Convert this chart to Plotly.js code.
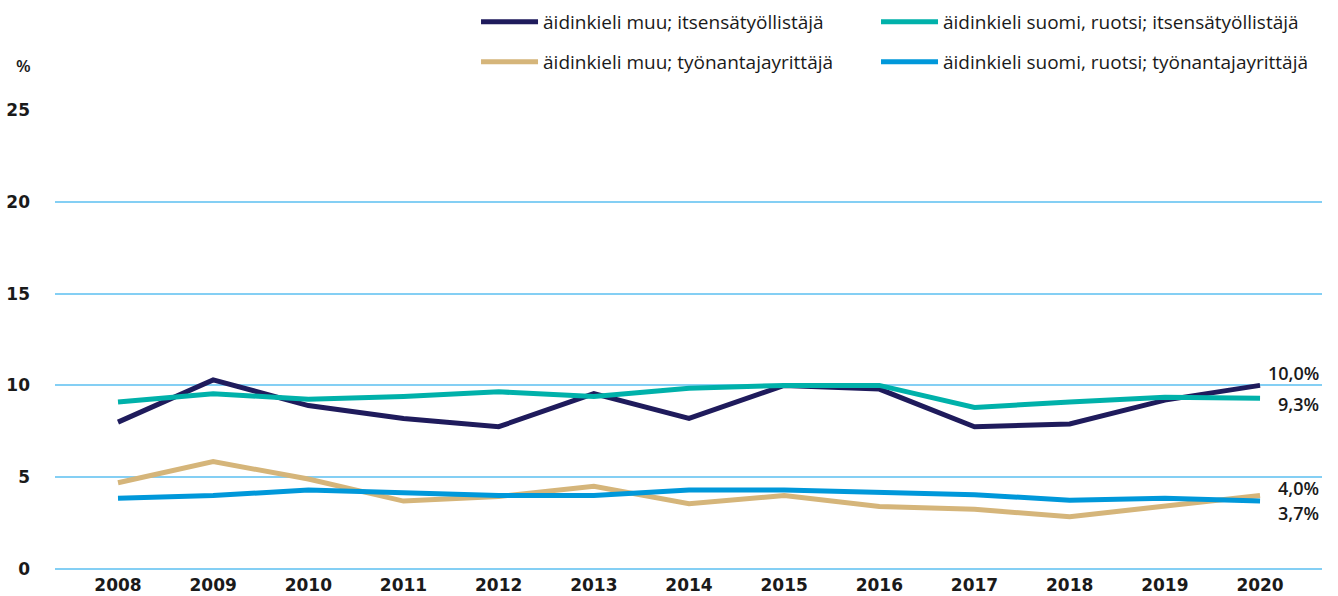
<!DOCTYPE html>
<html>
<head>
<meta charset="utf-8">
<script src="https://cdn.plot.ly/plotly-3.0.1.min.js"></script>
<style>
  html, body { margin: 0; padding: 0; background: #ffffff; }
  #chart { width: 1338px; height: 596px; }
</style>
</head>
<body>
<div id="chart"></div>
<script>
// ---- data ----
const years = [2008, 2009, 2010, 2011, 2012, 2013, 2014, 2015, 2016, 2017, 2018, 2019, 2020];

const seriesNames = [
  "äidinkieli muu; itsensätyöllistäjä",
  "äidinkieli suomi, ruotsi; itsensätyöllistäjä",
  "äidinkieli muu; työnantajayrittäjä",
  "äidinkieli suomi, ruotsi; työnantajayrittäjä"
];

const muuItsensa   = [8.0, 10.3, 8.9, 8.2, 7.75, 9.55, 8.2, 10.0, 9.8, 7.75, 7.9, 9.2, 10.0];
const suomiItsensa = [9.1, 9.55, 9.25, 9.4, 9.65, 9.4, 9.85, 10.0, 10.0, 8.8, 9.1, 9.35, 9.3];
const muuTyonantaja   = [4.7, 5.85, 4.9, 3.7, 3.95, 4.5, 3.55, 4.0, 3.4, 3.25, 2.85, 3.45, 4.0];
const suomiTyonantaja = [3.85, 4.0, 4.3, 4.15, 4.0, 4.0, 4.3, 4.3, 4.15, 4.05, 3.75, 3.85, 3.7];

const yTicks = [0, 5, 10, 15, 20, 25];
const unitLabel = "%";

// ---- styles ----
const colors = ["#1f1b5c", "#00b1aa", "#d5b57a", "#0098da"];
const legendIds = ["legend", "legend2", "legend3", "legend4"];
const legendPos = [[0.3323, 1.192], [0.6480, 1.192], [0.3323, 1.105], [0.6480, 1.105]];
const labelShift = [12, -6, 8, -12];
const FONT = "Open Sans, sans-serif";
const NUMFONT = "DejaVu Sans, sans-serif";

const seriesValues = [muuItsensa, suomiItsensa, muuTyonantaja, suomiTyonantaja];

const traces = seriesValues.map((vals, i) => ({
  type: "scatter",
  mode: "lines",
  x: years,
  y: vals,
  name: seriesNames[i],
  legend: legendIds[i],
  line: { color: colors[i], width: 5, shape: "linear" },
  cliponaxis: false,
  hoverinfo: "x+y+name"
}));

const lastYear = years[years.length - 1];
const endAnnotations = seriesValues.map((vals, i) => {
  const v = vals[vals.length - 1];
  return {
    x: lastYear, y: v, xref: "x", yref: "y",
    text: v.toFixed(1).replace(".", ",") + "%",
    showarrow: false,
    xanchor: "right", yanchor: "middle",
    xshift: 60, yshift: labelShift[i],
    borderpad: 0,
    font: { family: FONT, size: 18, color: "#1a1a1a", weight: 600 }
  };
});

const layout = {
  width: 1338,
  height: 596,
  paper_bgcolor: "#ffffff",
  plot_bgcolor: "#ffffff",
  margin: { l: 55, r: 16, t: 110, b: 27, pad: 0, autoexpand: false },
  font: { family: FONT, size: 16, color: "#1a1a1a" },
  showlegend: true,
  xaxis: {
    type: "linear",
    range: [2007.338, 2020.651],
    tickvals: years,
    ticktext: years.map(String),
    showgrid: false,
    zeroline: false,
    showline: false,
    ticks: "",
    automargin: false,
    ticklabelstandoff: 4,
    tickfont: { family: NUMFONT, size: 17, color: "#1a1a1a", weight: 700 },
    fixedrange: true
  },
  yaxis: {
    range: [0, 25],
    tickvals: yTicks,
    ticktext: yTicks.map(String),
    showgrid: true,
    gridcolor: "#84cff4",
    gridwidth: 2,
    zeroline: true,
    zerolinecolor: "#84cff4",
    zerolinewidth: 2,
    showline: false,
    ticks: "",
    automargin: false,
    ticklabelstandoff: 24,
    tickfont: { family: NUMFONT, size: 17, color: "#1a1a1a", weight: 700 },
    fixedrange: true
  },
  annotations: [
    {
      x: -0.0245, y: 1.098, xref: "paper", yref: "paper",
      text: unitLabel, showarrow: false,
      xanchor: "center", yanchor: "middle",
      font: { family: FONT, size: 17, color: "#1a1a1a", weight: 600 }
    }
  ].concat(endAnnotations)
};

legendIds.forEach((id, i) => {
  layout[id] = {
    orientation: "h",
    x: legendPos[i][0], xanchor: "left",
    y: legendPos[i][1], yanchor: "middle",
    itemwidth: 57,
    bgcolor: "rgba(0,0,0,0)",
    font: { family: FONT, size: 19, color: "#1a1a1a" }
  };
});

Plotly.newPlot("chart", traces, layout, { displayModeBar: false, staticPlot: true });
</script>
</body>
</html>
